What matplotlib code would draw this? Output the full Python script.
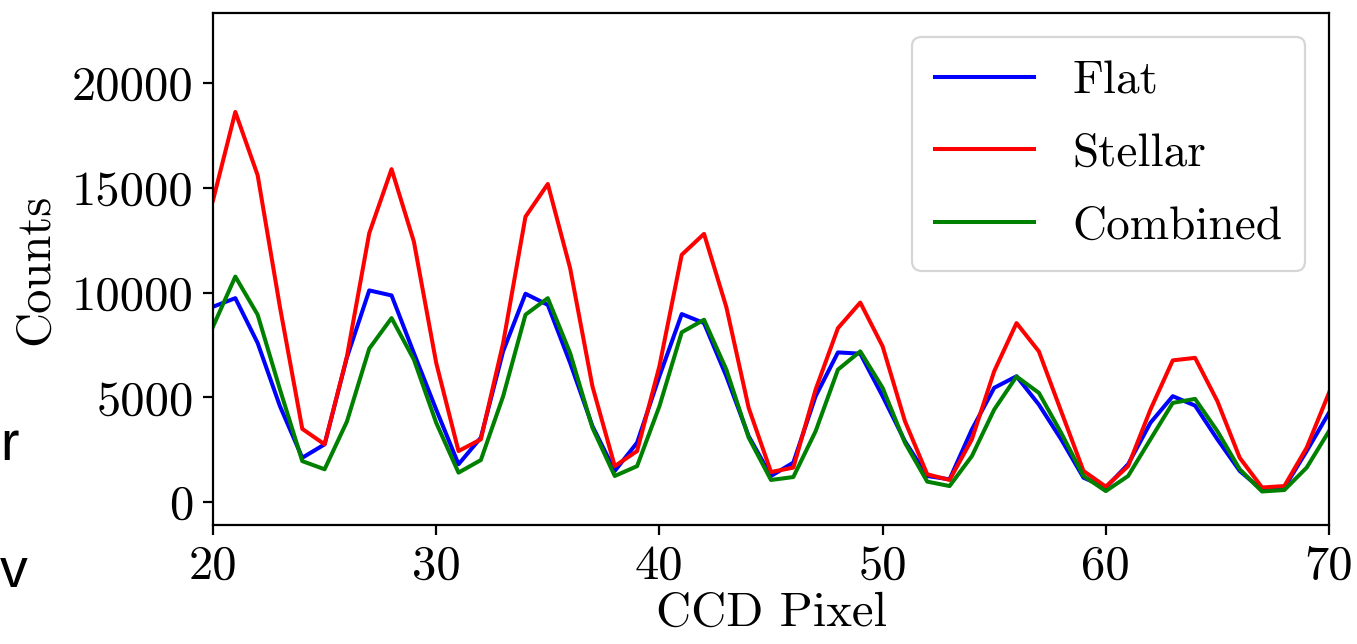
import matplotlib
matplotlib.use("Agg")
import matplotlib.pyplot as plt
import numpy as np

plt.rcParams['font.family'] = 'cmr10'
plt.rcParams['mathtext.fontset'] = 'cm'
plt.rcParams['axes.formatter.use_mathtext'] = True

pixels = list(range(20, 71))

flat = [9320, 9730, 7590, 4570, 2110, 2750, 6900, 10100, 9860, 7110,
        4410, 1800, 3070, 7200, 9940, 9410, 6640, 3620, 1480, 2830,
        6000, 8970, 8540, 6000, 3140, 1240, 1880, 5050, 7140, 7080,
        5050, 2900, 1240, 1080, 3460, 5450, 6000, 4650, 2990, 1160,
        690, 1800, 3780, 5050, 4600, 2990, 1480, 570, 690, 2430,
        4260]

stellar = [14400, 18620, 15600, 9300, 3490, 2750, 6940, 12830, 15890, 12430,
           6640, 2430, 2990, 7590, 13620, 15180, 11160, 5520, 1710, 2430,
           6480, 11800, 12800, 9300, 4490, 1430, 1640, 5370, 8300, 9520,
           7430, 3860, 1320, 1050, 2990, 6240, 8540, 7190, 4330, 1480,
           730, 1710, 4410, 6760, 6880, 4810, 2110, 690, 760, 2590,
           5210]

combined = [8370, 10760, 8940, 5370, 1950, 1560, 3840, 7320, 8780, 6800,
            3780, 1400, 2000, 5050, 8940, 9730, 7110, 3540, 1240, 1710,
            4570, 8100, 8700, 6320, 3070, 1050, 1190, 3380, 6320, 7190,
            5450, 2830, 970, 760, 2190, 4410, 5990, 5210, 3300, 1240,
            520, 1240, 2990, 4730, 4920, 3380, 1560, 500, 570, 1640,
            3380]

x_ticks = [20, 30, 40, 50, 60, 70]
y_ticks = [0, 5000, 10000, 15000, 20000]

fs = 35
fig = plt.figure(figsize=(13.57, 6.44), dpi=100)
ax = fig.add_axes([213 / 1357, 1 - 525 / 644, (1329 - 213) / 1357, (525 - 13.3) / 644])

lw = 2.9
ax.plot(pixels, flat, color='blue', lw=lw, label='Flat')
ax.plot(pixels, stellar, color='red', lw=lw, label='Stellar')
ax.plot(pixels, combined, color='green', lw=lw, label='Combined')

ax.set_xlim(20, 70)
ax.set_ylim(-1100, 23330)
ax.set_xticks(x_ticks)
ax.set_yticks(y_ticks)
ax.set_xticklabels([str(t) for t in x_ticks])
ax.set_yticklabels([str(t) for t in y_ticks])
ax.tick_params(labelsize=fs, length=7, width=1.6, pad=7)
for sp in ax.spines.values():
    sp.set_linewidth(1.6)

ax.set_xlabel('CCD Pixel', fontsize=fs, labelpad=2)
ax.set_ylabel('Counts', fontsize=fs, labelpad=10)

leg = ax.legend(fontsize=34, loc='upper right', handlelength=2.1,
                handletextpad=0.8, labelspacing=0.65, borderpad=0.49,
                borderaxespad=0.5, fancybox=True)
leg.get_frame().set_linewidth(1.6)

# fragments of neighbouring text at the left edge
fig.text(0.0, 1 - 460 / 644, 'r', fontsize=40, family='Liberation Sans',
         ha='left', va='baseline')
fig.text(0.0, 1 - 587 / 644, 'v', fontsize=40, family='Liberation Sans',
         ha='left', va='baseline')

fig.savefig('out.png', dpi=100)
